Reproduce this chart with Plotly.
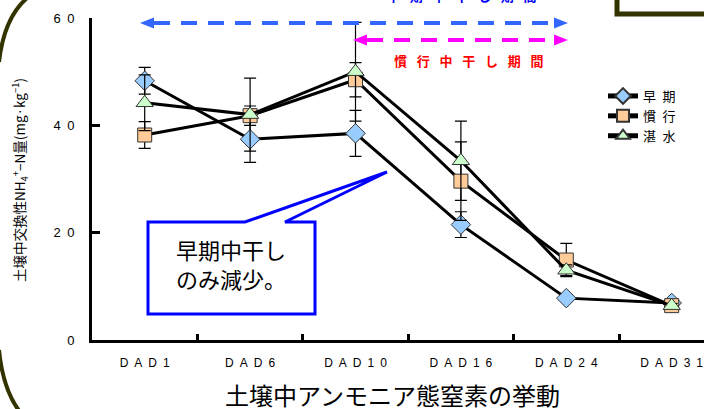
import plotly.graph_objects as go

# --- data -------------------------------------------------------------
days = ["DAD1", "DAD6", "DAD10", "DAD16", "DAD24", "DAD31"]
day_labels = ["\u2002".join(d) for d in days]   # letter-spaced axis labels

early = [48.3, 37.4, 38.5, 21.5, 7.8, 6.9]        # 早期
early_err = [2.5, 4.3, 4.3, 2.4, 0.5, 0.4]
conv = [38.2, 41.8, 48.5, 29.6, 14.9, 6.4]        # 慣行
conv_err = [2.5, 1.8, 3.2, 7.3, 3.1, 0.4]
flooded = [44.2, 42.0, 50.0, 33.4, 13.0, 6.4]     # 湛水
flooded_err = [5.2, 6.8, 9.2, 7.4, 1.0, 0.4]

y_ticks = [0, 20, 40, 60]
y_ticktext = ["0", "2\u20020", "4\u20020", "6\u20020"]

# --- layout geometry (pixels) -----------------------------------------
W, H = 704, 409
L, R, T, B = 92, 0, 18, 69
PW, PH = W - L - R, H - T - B


def px(x):
    return (x - L) / PW


def py(y):
    return (H - B - y) / PH


FONT = "Liberation Sans, Arial, Noto Sans CJK JP, sans-serif"
JP = "Noto Sans CJK JP, Liberation Sans, sans-serif"
SPACED = "\u2002\u2005"

series = [
    ("早\u2002期", early, early_err, "diamond", "#99CCFF", 15),
    ("慣\u2002行", conv, conv_err, "square", "#FFCC99", 14),
    ("湛\u2002水", flooded, flooded_err, "triangle-up", "#CCFFCC", 15),
]

fig = go.Figure()
for name, vals, errs, sym, col, size in series:
    fig.add_trace(go.Scatter(
        x=days, y=vals, name=name, mode="lines+markers",
        line=dict(color="black", width=3),
        marker=dict(symbol=sym, size=size, color=col,
                    line=dict(color="#333333", width=1)),
        error_y=dict(type="data", array=errs, visible=True,
                     color="black", thickness=1.2, width=6),
    ))

shapes = []

# callout box pointing at the 早期 curve
cx = [148, 245, 387, 285, 315, 315, 148]
cy = [222, 222, 172, 222, 222, 314, 314]
path = "M " + " L ".join(f"{px(a)},{py(b)}" for a, b in zip(cx, cy)) + " Z"
shapes.append(dict(type="path", xref="paper", yref="paper", path=path,
                   line=dict(color="#0000FF", width=3), fillcolor="white"))


def dashed_double_arrow(x0, x1, y, color):
    head = 14
    shapes.append(dict(type="line", xref="paper", yref="paper",
                       x0=px(x0 + head), x1=px(x1 - head), y0=py(y), y1=py(y),
                       line=dict(color=color, width=4, dash="16px,11px")))
    for tip, sgn in ((x0, 1), (x1, -1)):
        p = (f"M {px(tip)},{py(y)} L {px(tip + sgn * head)},{py(y - 5.5)} "
             f"L {px(tip + sgn * head)},{py(y + 5.5)} Z")
        shapes.append(dict(type="path", xref="paper", yref="paper", path=p,
                           line=dict(width=0), fillcolor=color))


dashed_double_arrow(140, 568, 23, "#3366FF")
dashed_double_arrow(353, 568, 40, "#FF00FF")

# slide frame pieces
olive = "#333300"
shapes.append(dict(type="path", xref="paper", yref="paper",
                   path=f"M {px(27)},{py(-2)} Q {px(4)},{py(18)} {px(-1)},{py(62)}",
                   line=dict(color=olive, width=4)))
shapes.append(dict(type="path", xref="paper", yref="paper",
                   path=f"M {px(-1)},{py(350)} Q {px(3)},{py(390)} {px(20)},{py(412)}",
                   line=dict(color=olive, width=4)))
shapes.append(dict(type="path", xref="paper", yref="paper",
                   path=f"M {px(617)},{py(-5)} L {px(617)},{py(14)} L {px(706)},{py(14)}",
                   line=dict(color=olive, width=5)))


def note(text, x, y, **kw):
    d = dict(text=text, x=px(x), y=py(y), xref="paper", yref="paper",
             xanchor="center", yanchor="middle", showarrow=False)
    d.update(kw)
    return d


annotations = [
    note("早期中干し<br>のみ減少。", 231, 263, align="left",
         font=dict(family=JP, size=22, color="black")),
    note(SPACED.join("慣行中干し期間"), 469, 60,
         font=dict(family=JP, size=13, color="#FF0000", weight="bold")),
    note(SPACED.join("早期中干し期間"), 462, -4,
         font=dict(family=JP, size=13, color="#0000FF", weight="bold")),
    note("土壌中交換性NH<sub>4</sub><sup>+</sup>−N量(mg·kg<sup>−1</sup>)", 20, 180,
         textangle=-90, font=dict(family=JP, size=13.5, color="black")),
    note("土壌中アンモニア態窒素の挙動", 392, 394,
         font=dict(family=JP, size=24, color="black")),
]

fig.update_layout(
    width=W, height=H,
    margin=dict(l=L, r=R, t=T, b=B, pad=0),
    paper_bgcolor="white", plot_bgcolor="white",
    font=dict(family=FONT, color="black"),
    showlegend=True,
    legend=dict(x=px(603), y=py(81), xanchor="left", yanchor="top",
                bgcolor="rgba(0,0,0,0)", font=dict(family=JP, size=13),
                tracegroupgap=0, itemwidth=30, itemsizing="constant"),
    shapes=shapes,
    annotations=annotations,
)
fig.update_xaxes(
    type="category", categoryorder="array", categoryarray=days,
    tickvals=days, ticktext=day_labels,
    range=[-0.5, -0.5 + PW / 105.4],
    showline=True, linecolor="black", linewidth=3,
    ticks="inside", tickson="boundaries", ticklen=6, tickwidth=3, tickcolor="black",
    showgrid=False, zeroline=False,
    tickfont=dict(family=FONT, size=12), ticklabelstandoff=10,
)
fig.update_yaxes(
    range=[0, 60], tickvals=y_ticks, ticktext=y_ticktext,
    showline=True, linecolor="black", linewidth=3,
    ticks="inside", ticklen=8, tickwidth=3, tickcolor="black",
    showgrid=False, zeroline=False,
    tickfont=dict(family=FONT, size=13), ticklabelstandoff=12,
)

fig.write_html("out.html")
